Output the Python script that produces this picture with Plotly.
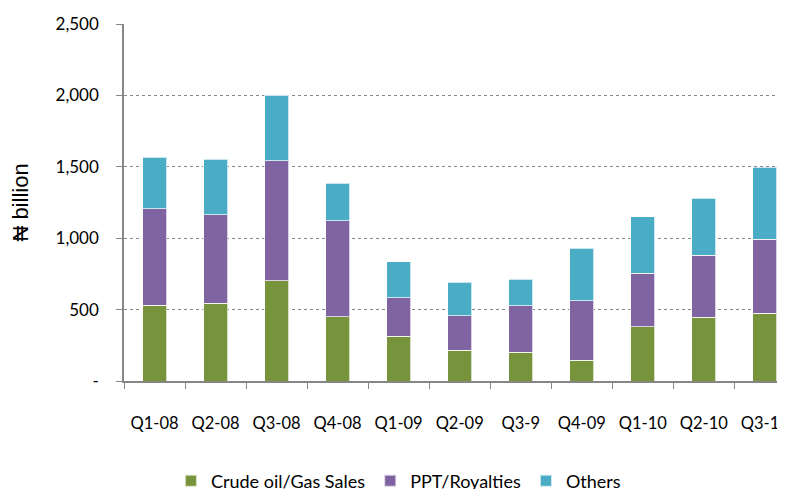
import plotly.graph_objects as go

quarters = ["Q1-08", "Q2-08", "Q3-08", "Q4-08", "Q1-09", "Q2-09", "Q3-9", "Q4-09", "Q1-10", "Q2-10", "Q3-10"]
crude_oil_gas = [530, 544, 702, 450, 315, 215, 201, 147, 380, 446, 474]
ppt_royalties = [676, 620, 840, 672, 268, 242, 326, 415, 376, 436, 518]
others = [362, 388, 458, 264, 252, 234, 185, 369, 394, 399, 506]

y_tickvals = [0, 500, 1000, 1500, 2000, 2500]
y_ticktext = ["-", "500", "1,000", "1,500", "2,000", "2,500"]

FONT = "Lato, 'Open Sans', sans-serif"
AXIS = "#868686"

fig = go.Figure()
for name, vals, col in [
    ("Crude oil/Gas Sales", crude_oil_gas, "#77933C"),
    ("PPT/Royalties", ppt_royalties, "#8064A2"),
    ("Others", others, "#4BACC6"),
]:
    fig.add_trace(go.Bar(
        x=quarters, y=vals, name=name,
        marker=dict(color=col, line=dict(color="rgba(255,255,255,0.7)", width=1)),
    ))

# page body has an 8px margin, so the figure is sized to end at the window edge
fig.update_layout(
    barmode="stack",
    bargap=0.607,
    width=777, height=481,
    margin=dict(l=116, r=0, t=16, b=108, autoexpand=False),
    paper_bgcolor="white", plot_bgcolor="white",
    font=dict(family=FONT, size=16, color="#000000"),
    showlegend=True,
    legend=dict(orientation="h", x=0.071, xanchor="left", y=-0.28, yanchor="middle",
                font=dict(size=18), itemsizing="constant", traceorder="normal",
                itemwidth=30),
)
fig.update_xaxes(
    range=[-0.5, 10.33], automargin=False,
    showline=True, linecolor=AXIS, linewidth=1.5,
    ticks="outside", tickson="boundaries", ticklen=6, tickcolor=AXIS,
    ticklabelstandoff=26,
    tickfont=dict(size=16.5),
    showgrid=False,
)
fig.update_yaxes(
    range=[0, 2500], automargin=False,
    tickvals=y_tickvals, ticktext=y_ticktext,
    showline=True, linecolor=AXIS, linewidth=1.5,
    ticks="outside", ticklen=6, tickcolor=AXIS,
    ticklabelstandoff=14,
    tickfont=dict(size=17),
    showgrid=True, gridcolor=AXIS, griddash="dot", gridwidth=1,
    zeroline=False,
    title=dict(text="₦ billion", font=dict(size=22, family="Liberation Sans, Arial, sans-serif"), standoff=38),
)
fig.write_html("out.html")
